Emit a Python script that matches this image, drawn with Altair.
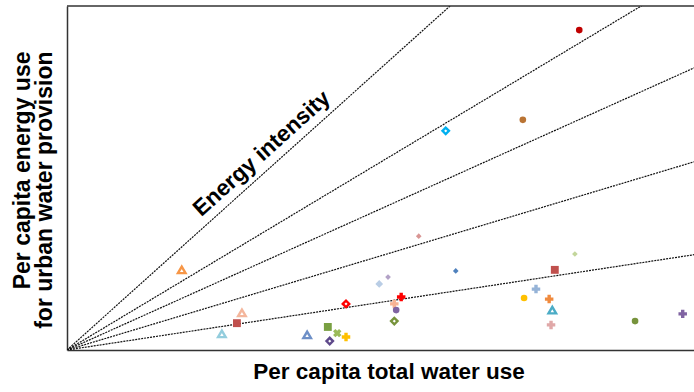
import altair as alt
import pandas as pd

# ---- data (arbitrary units: x = per capita total water use, y = per capita energy use) ----
x_vals = [18.3, 27.9, 27.1, 24.7, 38.3, 41.6, 43.1, 41.9, 44.5, 44.5,
          49.8, 51.2, 56.1, 53.3, 52.2, 52.5, 52.2, 62.0, 81.0, 77.8,
          74.8, 72.9, 76.9, 77.4, 77.2, 90.6, 98.2, 60.4, 72.7, 81.7]
y_vals = [23.3, 10.8, 7.8, 4.7, 4.4, 6.7, 4.9, 2.6, 3.8, 13.4,
          19.2, 21.2, 33.1, 15.4, 13.4, 11.6, 8.4, 23.0, 27.9, 23.3,
          17.7, 15.1, 14.8, 11.6, 7.3, 8.4, 10.5, 63.7, 66.9, 93.0]
colors = ["#F79646", "#F4B69C", "#C0504D", "#93CDDD", "#6D8FC7", "#79A042", "#9BBB59", "#5F4A8B", "#FFC000", "#FF0000",
          "#B9CDE5", "#B3A2C7", "#D99694", "#FF0000", "#F7B394", "#8064A2", "#77933C", "#4F81BD", "#C3D69B", "#C0504D",
          "#95B3D7", "#FFC000", "#F08A3E", "#4BACC6", "#E0A8A8", "#77933C", "#8064A2", "#00B0F0", "#BA7434", "#C00000"]
kinds = ["tri", "tri", "square", "tri", "tri", "square", "x", "ring", "plus", "ring",
         "diamond", "sdiamond", "sdiamond", "plus", "plus", "circle", "ring", "sdiamond", "sdiamond", "square",
         "plus", "circle", "plus", "tri", "plus", "circle", "plus", "ring", "circle", "circle"]

slopes = [1.637, 1.092, 0.820, 0.547, 0.277]   # energy intensity lines
label_text = ["Energy intensity"]
label_x = [31.8]
label_y = [55.6]

# ---- marker styles ----
STYLE = {
    "tri":      dict(shape="triangle-up", size=58, sw=2.4, angle=0, open=True),
    "square":   dict(shape="square", size=62, sw=0, angle=0, open=False),
    "circle":   dict(shape="circle", size=44, sw=0, angle=0, open=False),
    "plus":     dict(shape="cross", size=72, sw=0, angle=0, open=False),
    "x":        dict(shape="cross", size=72, sw=0, angle=45, open=False),
    "diamond":  dict(shape="diamond", size=60, sw=0, angle=0, open=False),
    "sdiamond": dict(shape="diamond", size=32, sw=0, angle=0, open=False),
    "ring":     dict(shape="diamond", size=42, sw=2.4, angle=0, open=True),
}

rows = []
for x, y, c, k in zip(x_vals, y_vals, colors, kinds):
    s = STYLE[k]
    rows.append(dict(x=x, y=y, stroke=c, fill="white" if s["open"] else c,
                     shape=s["shape"], size=s["size"], sw=s["sw"], angle=s["angle"]))
pts = pd.DataFrame(rows)

line_rows = []
for i, s in enumerate(slopes):
    line_rows.append(dict(x=0, y=0, line=i))
    line_rows.append(dict(x=100, y=100 * s, line=i))
lines_df = pd.DataFrame(line_rows)

label_df = pd.DataFrame(dict(x=label_x, y=label_y, t=label_text))

W, H = 627, 344

xscale = alt.Scale(domain=[0, 100], nice=False, zero=True)
yscale = alt.Scale(domain=[0, 100], nice=False, zero=True)
xaxis = alt.Axis(title="Per capita total water use", labels=False, ticks=False, grid=False,
                 domainColor="#333333", domainWidth=1.5,
                 titleFont="Liberation Sans", titleFontSize=22.5, titleFontWeight="bold",
                 titleColor="black", titleX=321.5, titleY=28, titleBaseline="alphabetic",
                 titleAlign="center")
yaxis = alt.Axis(title=["Per capita energy use", "for urban water provision"], labels=False,
                 ticks=False, grid=False, domainColor="#333333", domainWidth=1.5,
                 titleFont="Liberation Sans", titleFontSize=23, titleFontWeight="bold",
                 titleColor="black", titleAngle=270, titleAlign="right",
                 titleBaseline="alphabetic", titleX=-38, titleY=45, titleLineHeight=22)

X = alt.X("x:Q", scale=xscale, axis=xaxis)
Y = alt.Y("y:Q", scale=yscale, axis=yaxis)

lines = alt.Chart(lines_df).mark_line(clip=True, color="#111111", strokeWidth=1.2,
                                      strokeDash=[2, 1]).encode(x=X, y=Y, detail="line:N")

points = alt.Chart(pts).mark_point(filled=True, opacity=1).encode(
    x=X, y=Y,
    fill=alt.Fill("fill:N", scale=None),
    stroke=alt.Stroke("stroke:N", scale=None),
    shape=alt.Shape("shape:N", scale=None),
    size=alt.Size("size:Q", scale=None),
    strokeWidth=alt.StrokeWidth("sw:Q", scale=None),
    angle=alt.Angle("angle:Q", scale=None),
)

label = alt.Chart(label_df).mark_text(font="Liberation Sans", fontSize=22.5, fontWeight="bold",
                                      angle=318, align="center", baseline="alphabetic",
                                      color="black").encode(x=X, y=Y, text="t:N")

top = alt.Chart(pd.DataFrame({"a": [0]})).mark_rule(color="#333333", strokeWidth=1.5).encode(
    x=alt.value(0), x2=alt.value(W), y=alt.value(0))

chart = alt.layer(lines, points, label, top).properties(
    width=W, height=H,
    autosize=alt.AutoSizeParams(type="none"),
    padding={"left": 67, "top": 6, "right": 0, "bottom": 42},
    background="white",
).configure_view(stroke=None)

chart.save("out.html", embed_options={"renderer": "svg", "actions": False})
